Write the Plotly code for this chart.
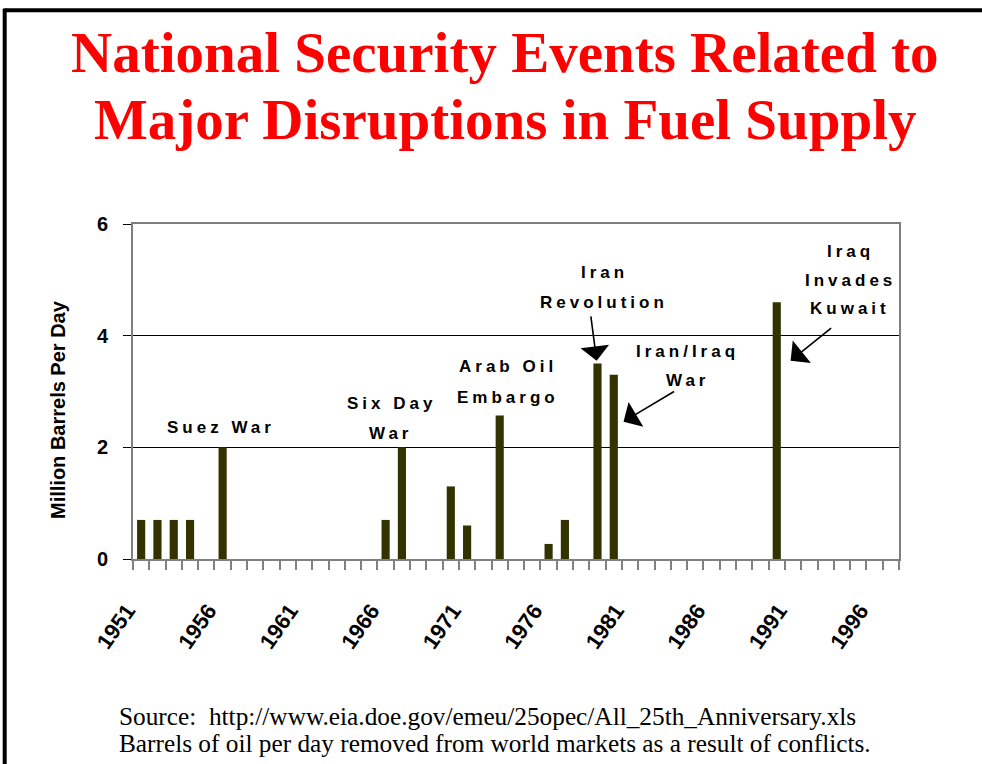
import plotly.graph_objects as go

# ---- data ----
years = [1951, 1952, 1953, 1954, 1956, 1966, 1967, 1970, 1971, 1973, 1976, 1977, 1979, 1980, 1990]
values = [0.7, 0.7, 0.7, 0.7, 2.0, 0.7, 2.0, 1.3, 0.6, 2.57, 0.27, 0.7, 3.5, 3.3, 4.6]
tick_years = [1951, 1956, 1961, 1966, 1971, 1976, 1981, 1986, 1991, 1996]
y_ticks = [0, 2, 4, 6]

title_lines = ["National Security Events Related to", "Major Disruptions in Fuel Supply"]
source_lines = ["Source:  http://www.eia.doe.gov/emeu/25opec/All_25th_Anniversary.xls",
                "Barrels of oil per day removed from world markets as a result of conflicts."]

# event labels: (text line, x in years, y in value units)
event_lines = [
    ("Suez War", 1955.9, 2.35),
    ("Six Day", 1966.35, 2.79),
    ("War", 1966.35, 2.25),
    ("Arab Oil", 1973.5, 3.44),
    ("Embargo", 1973.5, 2.90),
    ("Iran", 1979.45, 5.13),
    ("Revolution", 1979.4, 4.59),
    ("Iran/Iraq", 1984.55, 3.71),
    ("War", 1984.55, 3.19),
    ("Iraq", 1994.5, 5.50),
    ("Invades", 1994.5, 4.98),
    ("Kuwait", 1994.5, 4.48),
]
# arrows: tip (x year, y value), tail offset in pixels
arrows = [
    (1978.95, 3.55, -6, -46),
    (1980.6, 2.46, 52, -31),
    (1990.85, 3.55, 42, -34),
]

W, H = 982, 764
ML, MR, MT, MB = 133, 83, 224, 205
PW = W - ML - MR
PH = H - MT - MB

def px_x(px):
    return (px - ML) / PW

def px_y(py):
    return (H - MB - py) / PH

fig = go.Figure()
fig.add_trace(go.Bar(x=years, y=values, width=0.5,
                     marker=dict(color="#333300", line=dict(width=0)),
                     hoverinfo="x+y"))

annotations = []
for t, x, y in event_lines:
    annotations.append(dict(
        text='<span style="letter-spacing:4px">' + t + '</span>',
        x=x, y=y, xref="x", yref="y", showarrow=False,
        font=dict(family="Liberation Sans, Arial", size=17, color="black", weight="bold"),
        xanchor="center", yanchor="middle"))

for x, y, ax, ay in arrows:
    annotations.append(dict(
        text="", x=x, y=y, xref="x", yref="y", ax=ax, ay=ay,
        showarrow=True, arrowhead=1, arrowsize=3, arrowwidth=1.6,
        arrowcolor="black"))

# title
for i, line in enumerate(title_lines):
    annotations.append(dict(
        text="<b>" + line + "</b>", x=px_x(505), y=px_y(52 + 68 * i),
        xref="paper", yref="paper", showarrow=False,
        font=dict(family="Liberation Serif, Times New Roman", size=57, color="#ff0000"),
        xanchor="center", yanchor="middle"))

# source
for i, line in enumerate(source_lines):
    annotations.append(dict(
        text=line, x=px_x(117), y=px_y(716 + 27 * i),
        xref="paper", yref="paper", showarrow=False,
        font=dict(family="Liberation Serif, Times New Roman", size=25.3, color="black"),
        xanchor="left", yanchor="middle"))

# y axis title
annotations.append(dict(
    text="<b>Million Barrels Per Day</b>", x=px_x(58), y=px_y(410),
    xref="paper", yref="paper", showarrow=False, textangle=-90,
    font=dict(family="Liberation Sans, Arial", size=20, color="black"),
    xanchor="center", yanchor="middle"))

shapes = [
    dict(type="line", xref="paper", yref="paper",
         x0=px_x(4.7), x1=px_x(1000), y0=px_y(10.3), y1=px_y(10.3),
         line=dict(color="black", width=4)),
    dict(type="line", xref="paper", yref="paper",
         x0=px_x(4.7), x1=px_x(4.7), y0=px_y(8.5), y1=px_y(780),
         line=dict(color="black", width=4)),
]

fig.update_layout(
    width=W, height=H,
    margin=dict(l=ML, r=MR, t=MT, b=MB, autoexpand=False),
    paper_bgcolor="white", plot_bgcolor="white",
    showlegend=False,
    annotations=annotations,
    shapes=shapes,
    bargap=0.5,
)

fig.update_xaxes(
    range=[1950.5, 1997.5], tickvals=tick_years, ticktext=[str(v) for v in tick_years],
    tickangle=-55, ticks="", showgrid=False, zeroline=False,
    showline=True, linecolor="#808080", linewidth=2, mirror=True,
    tickfont=dict(family="Liberation Sans, Arial", size=22, color="black", weight="bold"),
    ticklabelstandoff=28, ticklabelshift=-14,
    minor=dict(tick0=1950.5, dtick=1, ticks="outside", ticklen=9, tickcolor="#808080",
               tickwidth=1.5, showgrid=False),
)
fig.update_yaxes(
    range=[0, 6], tickvals=y_ticks, ticks="outside", ticklen=8, tickcolor="black",
    tickwidth=1, showgrid=True, gridcolor="black", gridwidth=1, zeroline=False,
    showline=True, linecolor="#808080", linewidth=2, mirror=True,
    tickfont=dict(family="Liberation Sans, Arial", size=20, color="black", weight="bold"),
    ticklabelstandoff=11,
)

fig.write_html("out.html", config={"displayModeBar": False},
               post_script="document.body.style.margin='0';document.body.style.overflow='hidden';")
